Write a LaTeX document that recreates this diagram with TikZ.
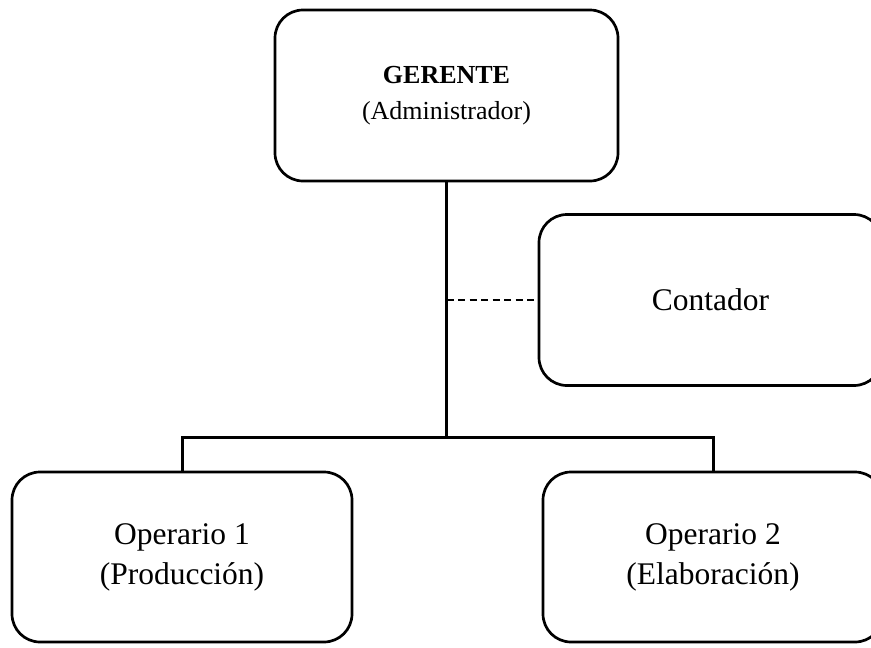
\documentclass[tikz,border=0pt]{standalone}
\usepackage{fontspec}
\setmainfont{Liberation Serif}
\begin{document}
\begin{tikzpicture}[x=1pt,y=-1pt,
  box/.style={draw, line width=2.7pt, rounded corners=28pt, minimum width=343pt, minimum height=171pt, align=center, inner sep=0pt},
  big/.style={font=\fontsize{31.5}{40}\selectfont},
  small/.style={font=\fontsize{26}{36}\selectfont},
  conn/.style={line width=3pt},
  dashconn/.style={line width=2pt, dash pattern=on 7pt off 4.5pt}]
\useasboundingbox (0,0) rectangle (871,648);
\clip (0,0) rectangle (871,648);
\node[box, small] (ger) at (446.5,95.5) {\textbf{GERENTE}\\(Administrador)};
\node[box, big] (con) at (710.5,300) {Contador};
\node[box, big, minimum width=340pt, minimum height=170pt] (op1) at (182,557) {Operario 1\\(Producción)};
\node[box, big, minimum width=340pt, minimum height=170pt] (op2) at (713,557) {Operario 2\\(Elaboración)};
\coordinate (j) at (446.5,437);
\draw[conn] (ger.south) -- (j);
\draw[conn] (op1.north) |- (j) -| (op2.north);
\draw[dashconn] (ger.south |- con.west) -- (con.west);
\end{tikzpicture}
\end{document}
